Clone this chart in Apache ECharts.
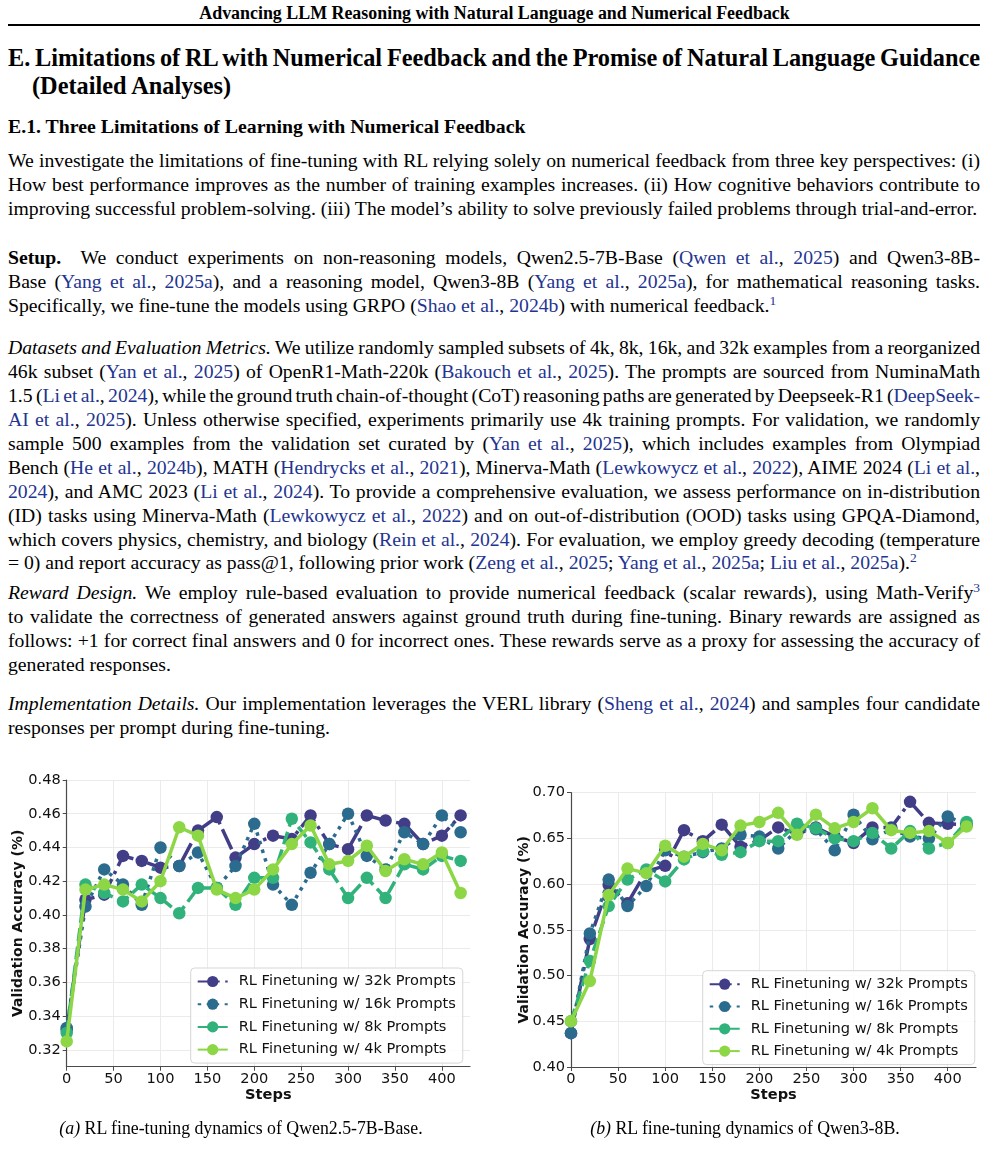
<!DOCTYPE html>
<html><head><meta charset="utf-8">
<script src="https://cdn.jsdelivr.net/npm/echarts@6/dist/echarts.min.js"></script>
<style>
html,body{margin:0;padding:0;background:#fff;}
body{width:989px;height:1156px;position:relative;overflow:hidden;font-family:"Liberation Serif","Times New Roman",serif;color:#000;}
.ln{position:absolute;left:8px;width:972px;height:24px;line-height:24px;font-size:19.7px;white-space:nowrap;}
.j{white-space:nowrap;text-align:left;}
.c{color:#1f3591;}
sup{font-size:13.5px;line-height:0;vertical-align:7px;}
.hdr{position:absolute;left:0;width:989px;text-align:center;font-weight:bold;font-size:17.9px;top:3px;line-height:20px;}
.rule{position:absolute;left:8px;width:972px;top:24px;height:2px;background:#000;}
.h1{position:absolute;left:8px;width:972px;font-weight:bold;font-size:24.3px;line-height:28px;white-space:nowrap;}
.h2{position:absolute;left:8px;font-weight:bold;font-size:19.8px;line-height:24px;white-space:nowrap;}
.cap{position:absolute;font-size:17.8px;line-height:20px;white-space:nowrap;text-align:center;}
#ca{position:absolute;left:0;top:760px;width:490px;height:360px;}
#cb{position:absolute;left:495px;top:760px;width:494px;height:360px;}
</style></head>
<body>
<div class="hdr">Advancing LLM Reasoning with Natural Language and Numerical Feedback</div>
<div class="rule"></div>
<div class="h1 j" style="top:44px;">E. Limitations of RL with Numerical Feedback and the Promise of Natural Language Guidance</div>
<div class="h1" style="top:72px;left:32px;">(Detailed Analyses)</div>
<div class="h2" style="top:114px;">E.1. Three Limitations of Learning with Numerical Feedback</div>

<div class="ln j" style="top:148px;">We investigate the limitations of fine-tuning with RL relying solely on numerical feedback from three key perspectives: (i)</div>
<div class="ln j" style="top:172px;">How best performance improves as the number of training examples increases. (ii) How cognitive behaviors contribute to</div>
<div class="ln" style="top:196px;">improving successful problem-solving. (iii) The model’s ability to solve previously failed problems through trial-and-error.</div>

<div class="ln j" style="top:245px;"><b style="margin-right:10px;">Setup.</b> We conduct experiments on non-reasoning models, Qwen2.5-7B-Base (<span class="c">Qwen et al.</span>, <span class="c">2025</span>) and Qwen3-8B-</div>
<div class="ln j" style="top:269px;">Base (<span class="c">Yang et al.</span>, <span class="c">2025a</span>), and a reasoning model, Qwen3-8B (<span class="c">Yang et al.</span>, <span class="c">2025a</span>), for mathematical reasoning tasks.</div>
<div class="ln" style="top:293px;">Specifically, we fine-tune the models using GRPO (<span class="c">Shao et al.</span>, <span class="c">2024b</span>) with numerical feedback.<sup class="c">1</sup></div>

<div class="ln j" style="top:335px;"><i>Datasets and Evaluation Metrics.</i> We utilize randomly sampled subsets of 4k, 8k, 16k, and 32k examples from a reorganized</div>
<div class="ln j" style="top:359px;">46k subset (<span class="c">Yan et al.</span>, <span class="c">2025</span>) of OpenR1-Math-220k (<span class="c">Bakouch et al.</span>, <span class="c">2025</span>). The prompts are sourced from NuminaMath</div>
<div class="ln j" style="top:383px;">1.5 (<span class="c">Li et al.</span>, <span class="c">2024</span>), while the ground truth chain-of-thought (CoT) reasoning paths are generated by Deepseek-R1 (<span class="c">DeepSeek-</span></div>
<div class="ln j" style="top:407px;"><span class="c">AI et al.</span>, <span class="c">2025</span>). Unless otherwise specified, experiments primarily use 4k training prompts. For validation, we randomly</div>
<div class="ln j" style="top:431px;">sample 500 examples from the validation set curated by (<span class="c">Yan et al.</span>, <span class="c">2025</span>), which includes examples from Olympiad</div>
<div class="ln j" style="top:455px;">Bench (<span class="c">He et al.</span>, <span class="c">2024b</span>), MATH (<span class="c">Hendrycks et al.</span>, <span class="c">2021</span>), Minerva-Math (<span class="c">Lewkowycz et al.</span>, <span class="c">2022</span>), AIME 2024 (<span class="c">Li et al.</span>,</div>
<div class="ln j" style="top:479px;"><span class="c">2024</span>), and AMC 2023 (<span class="c">Li et al.</span>, <span class="c">2024</span>). To provide a comprehensive evaluation, we assess performance on in-distribution</div>
<div class="ln j" style="top:503px;">(ID) tasks using Minerva-Math (<span class="c">Lewkowycz et al.</span>, <span class="c">2022</span>) and on out-of-distribution (OOD) tasks using GPQA-Diamond,</div>
<div class="ln j" style="top:527px;">which covers physics, chemistry, and biology (<span class="c">Rein et al.</span>, <span class="c">2024</span>). For evaluation, we employ greedy decoding (temperature</div>
<div class="ln" style="top:550px;">= 0) and report accuracy as pass@1, following prior work (<span class="c">Zeng et al.</span>, <span class="c">2025</span>; <span class="c">Yang et al.</span>, <span class="c">2025a</span>; <span class="c">Liu et al.</span>, <span class="c">2025a</span>).<sup class="c">2</sup></div>

<div class="ln j" style="top:580px;"><i>Reward Design.</i> We employ rule-based evaluation to provide numerical feedback (scalar rewards), using Math-Verify<sup class="c">3</sup></div>
<div class="ln j" style="top:604px;">to validate the correctness of generated answers against ground truth during fine-tuning. Binary rewards are assigned as</div>
<div class="ln j" style="top:628px;">follows: +1 for correct final answers and 0 for incorrect ones. These rewards serve as a proxy for assessing the accuracy of</div>
<div class="ln" style="top:652px;">generated responses.</div>

<div class="ln j" style="top:691px;"><i>Implementation Details.</i> Our implementation leverages the VERL library (<span class="c">Sheng et al.</span>, <span class="c">2024</span>) and samples four candidate</div>
<div class="ln" style="top:715px;">responses per prompt during fine-tuning.</div>

<div id="ca"></div>
<div id="cb"></div>

<div class="cap" style="left:0;width:482px;top:1118px;"><i>(a)</i> RL fine-tuning dynamics of Qwen2.5-7B-Base.</div>
<div class="cap" style="left:500px;width:490px;top:1118px;"><i>(b)</i> RL fine-tuning dynamics of Qwen3-8B.</div>

<script>
// justify each line exactly to its box width (no wrapping)
document.querySelectorAll('.j').forEach(el => {
  el.innerHTML = '<span class="in">' + el.innerHTML + '</span>';
  const inner = el.querySelector('.in');
  const w = inner.getBoundingClientRect().width;
  const n = (el.textContent.match(/ /g) || []).length;
  if (n > 0) el.style.wordSpacing = ((972 - w) / n) + 'px';
});

// ---- data ----
const steps = [0,20,40,60,80,100,120,140,160,180,200,220,240,260,280,300,320,340,360,380,400,420];
const seriesNames = ['RL Finetuning w/ 32k Prompts','RL Finetuning w/ 16k Prompts','RL Finetuning w/ 8k Prompts','RL Finetuning w/ 4k Prompts'];

// (a) Qwen2.5-7B-Base
const a32k = [0.332,0.409,0.412,0.435,0.432,0.428,0.429,0.450,0.458,0.434,0.442,0.447,0.445,0.459,0.442,0.439,0.459,0.456,0.454,0.442,0.447,0.459];
const a16k = [0.333,0.405,0.427,0.418,0.406,0.440,0.429,0.437,0.416,0.429,0.454,0.418,0.406,0.425,0.442,0.460,0.435,0.427,0.449,0.442,0.459,0.449];
const a8k  = [0.330,0.418,0.413,0.408,0.418,0.410,0.401,0.416,0.416,0.406,0.422,0.422,0.457,0.443,0.427,0.410,0.422,0.410,0.430,0.427,0.435,0.432];
const a4k  = [0.325,0.415,0.418,0.415,0.408,0.420,0.452,0.447,0.415,0.410,0.415,0.427,0.442,0.453,0.430,0.432,0.441,0.426,0.433,0.430,0.437,0.413];

// (b) Qwen3-8B
const b32k = [0.437,0.540,0.599,0.579,0.614,0.620,0.659,0.647,0.665,0.641,0.648,0.662,0.655,0.662,0.652,0.645,0.662,0.662,0.690,0.667,0.666,0.665];
const b16k = [0.437,0.546,0.605,0.576,0.598,0.637,0.630,0.635,0.639,0.654,0.652,0.639,0.659,0.660,0.637,0.676,0.649,0.660,0.652,0.650,0.674,0.665];
const b8k  = [0.450,0.516,0.576,0.605,0.616,0.603,0.627,0.636,0.632,0.635,0.647,0.647,0.666,0.661,0.650,0.647,0.656,0.639,0.658,0.639,0.645,0.668];
const b4k  = [0.450,0.494,0.588,0.617,0.612,0.642,0.630,0.644,0.637,0.664,0.668,0.678,0.654,0.676,0.661,0.668,0.683,0.659,0.656,0.658,0.645,0.663];

// ticks
const xTicks = [0,50,100,150,200,250,300,350,400];
const yTicksA = [0.32,0.34,0.36,0.38,0.40,0.42,0.44,0.46,0.48];
const yTicksB = [0.40,0.45,0.50,0.55,0.60,0.65,0.70];

// ---- styles ----
const colors = ['#413d86','#2b6b8d','#30b27a','#8dd645'];
const dashes = [[22,5.5,3.5,5.5],[3.5,5.5],[13,5.5],'solid'];
const FONT = 'DejaVu Sans';
const FS = 14.6;

function buildSeries(valsList){
  return valsList.map((vals,k)=>({
    name: seriesNames[k],
    type: 'line',
    data: steps.map((s,i)=>[s, vals[i]]),
    symbol: 'circle',
    symbolSize: 12.5,
    showSymbol: true,
    lineStyle: {color: colors[k], width: 3.5, type: dashes[k], cap: 'butt'},
    itemStyle: {color: colors[k], borderWidth: 0},
    emphasis: {disabled: true},
    z: 2 + k
  }));
}

function axisCommon(){
  return {
    axisLine: {show: true, lineStyle: {color: '#4a4a4a', width: 1.2}},
    axisTick: {show: true, length: 4, lineStyle: {color: '#4a4a4a', width: 1}},
    splitLine: {show: true, lineStyle: {color: '#ebebeb', width: 1}},
  };
}

function makeOption(cfg){
  const xa = axisCommon();
  const ya = axisCommon();
  return {
    animation: false,
    textStyle: {fontFamily: FONT},
    grid: cfg.grid,
    xAxis: Object.assign(xa, {
      type: 'value', min: 0, max: 430,
      axisTick: Object.assign(xa.axisTick, {customValues: xTicks}),
      axisLabel: {customValues: xTicks, fontSize: FS, color: '#111', fontFamily: FONT, margin: 5},
      name: 'Steps', nameLocation: 'middle', nameGap: 21, nameMoveOverlap: false,
      nameTextStyle: {fontWeight: 'bold', fontSize: FS, color: '#111', fontFamily: FONT}
    }),
    yAxis: Object.assign(ya, {
      type: 'value', min: cfg.ymin, max: cfg.ymax, splitNumber: cfg.split,
      axisTick: Object.assign(ya.axisTick, {customValues: cfg.yTicks}),
      axisLabel: {customValues: cfg.yTicks, fontSize: FS, color: '#111', fontFamily: FONT, margin: 6,
                  formatter: v => v.toFixed(2)},
      name: 'Validation Accuracy (%)', nameLocation: 'middle', nameGap: cfg.nameGap, nameRotate: 90,
      nameMoveOverlap: false,
      nameTextStyle: {fontWeight: 'bold', fontSize: 14, color: '#111', fontFamily: FONT}
    }),
    legend: {
      orient: 'vertical', left: cfg.legend.left, top: cfg.legend.top,
      itemWidth: 30, itemHeight: 14, itemGap: cfg.legend.gap,
      padding: [6, 7, 6, 6],
      backgroundColor: 'rgba(255,255,255,0.85)',
      borderColor: '#d6d6d6', borderWidth: 1, borderRadius: 4,
      textStyle: {fontSize: FS, color: '#111', fontFamily: FONT, padding: [0,0,0,6]},
      selectedMode: false,
      data: seriesNames
    },
    series: buildSeries(cfg.vals)
  };
}

const chartA = echarts.init(document.getElementById('ca'), null, {renderer: 'canvas'});
chartA.setOption(makeOption({
  grid: {left: 66.7, top: 20, width: 403.3, height: 286.7},
  ymin: 0.31, ymax: 0.48, split: 8, yTicks: yTicksA, nameGap: 41.5,
  legend: {left: 190.7, top: 208, gap: 7.7},
  vals: [a32k, a16k, a8k, a4k]
}));

const chartB = echarts.init(document.getElementById('cb'), null, {renderer: 'canvas'});
chartB.setOption(makeOption({
  grid: {left: 76, top: 32.7, width: 405, height: 274.3},
  ymin: 0.40, ymax: 0.70, split: 6, yTicks: yTicksB, nameGap: 40,
  legend: {left: 207.7, top: 210.7, gap: 7.3},
  vals: [b32k, b16k, b8k, b4k]
}));
</script>
</body></html>
